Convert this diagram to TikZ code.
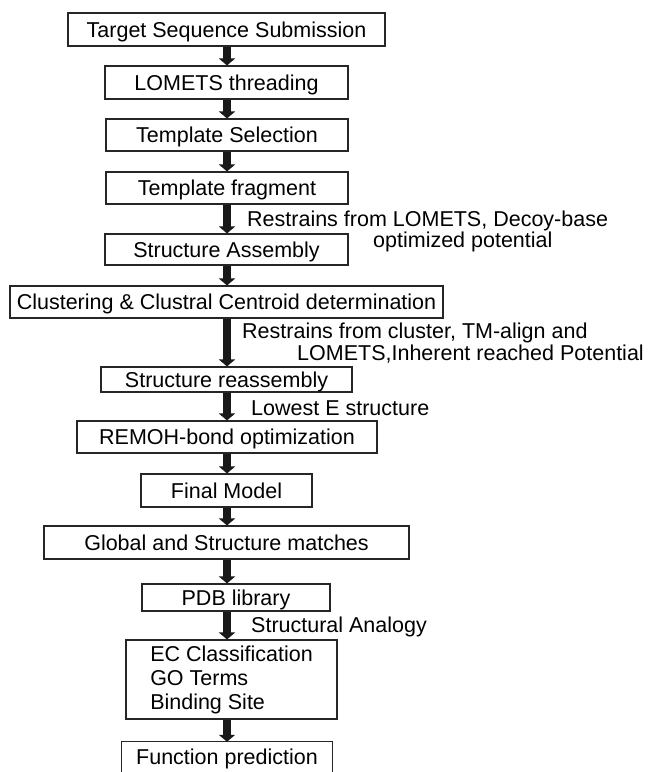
\documentclass[tikz,border=0pt]{standalone}
\usepackage{fontspec}
\setmainfont{Liberation Sans}
\usetikzlibrary{arrows.meta}
\begin{document}
\begin{tikzpicture}[x=1pt,y=-1pt,
  boxbase/.style={rectangle, inner sep=0pt, font=\fontsize{21.5}{24}\selectfont},
  box/.style={boxbase, draw=black!85, line width=1.1pt, text height=15.5pt, text depth=0pt},
  lbl/.style={inner sep=0pt, anchor=base west, font=\fontsize{21.5}{24}\selectfont},
  bigarr/.style={draw=black!90, line width=7.5pt, -{Triangle[width=16pt,length=7pt]}}]
\useasboundingbox (0,0) rectangle (649,772);
\fill[white] (0,0) rectangle (649,772);
\coordinate (ax) at (227,0);
\node[box, minimum width=317pt, minimum height=33pt] (b1) at (226.5,29.5) {Target Sequence Submission};
\node[box, minimum width=243pt, minimum height=33pt] (b2) at (226.5,82.5) {LOMETS threading};
\node[box, minimum width=242pt, minimum height=32pt] (b3) at (227,135) {Template Selection};
\node[box, minimum width=242pt, minimum height=32pt] (b4) at (227,188) {Template fragment};
\node[box, minimum width=243pt, minimum height=31pt] (b5) at (226.5,249.5) {Structure Assembly};
\node[box, minimum width=433pt, minimum height=32pt] (b6) at (226.5,302) {Clustering \& Clustral Centroid determination};
\node[box, minimum width=251pt, minimum height=25pt] (b7) at (226.5,379.5) {Structure reassembly};
\node[box, minimum width=300pt, minimum height=32pt] (b8) at (227,437) {REMOH-bond optimization};
\node[box, minimum width=171pt, minimum height=33pt] (b9) at (226.5,490.5) {Final Model};
\node[box, minimum width=365pt, minimum height=33pt] (b10) at (226.5,542.5) {Global and Structure matches};
\node[box, minimum width=188pt, minimum height=27pt] (b11) at (236,597.5) {PDB library};
\node[boxbase, draw=black!85, line width=1.1pt, align=left, minimum width=211pt, minimum height=79pt] (b12) at (231.5,679.5) {EC Classification\\GO Terms\\Binding Site};
\node[boxbase, text height=15.5pt, text depth=0pt, minimum width=210pt, minimum height=30pt] (b13) at (227,757) {Function prediction};
\draw[draw=black!85, line width=1.1pt] (b13.south west) -- (b13.north west) -- (b13.north east) -- (b13.south east);

\draw[bigarr] (b1.south -| ax) -- (b2.north -| ax);
\draw[bigarr] (b2.south -| ax) -- (b3.north -| ax);
\draw[bigarr] (b3.south -| ax) -- (b4.north -| ax);
\draw[bigarr] (b4.south -| ax) -- (b5.north -| ax);
\draw[bigarr] (b5.south -| ax) -- (b6.north -| ax);
\draw[bigarr] (b6.south -| ax) -- (b7.north -| ax);
\draw[bigarr] (b7.south -| ax) -- (b8.north -| ax);
\draw[bigarr] (b8.south -| ax) -- (b9.north -| ax);
\draw[bigarr] (b9.south -| ax) -- (b10.north -| ax);
\draw[bigarr] (b10.south -| ax) -- (b11.north -| ax);
\draw[bigarr] (b11.south -| ax) -- (b12.north -| ax);
\draw[bigarr] (b12.south -| ax) -- (b13.north -| ax);

\node[lbl] (l1) at (247,226) {Restrains from LOMETS, Decoy-base};
\node[lbl] (l2) at (373,247) {optimized potential};
\node[lbl] (l3) at (242,338) {Restrains from cluster, TM-align and};
\node[lbl] (l4) at (297,360) {LOMETS,Inherent reached Potential};
\node[lbl] (l5) at (251,415) {Lowest E structure};
\node[lbl] (l6) at (251,632) {Structural Analogy};
\end{tikzpicture}
\end{document}
